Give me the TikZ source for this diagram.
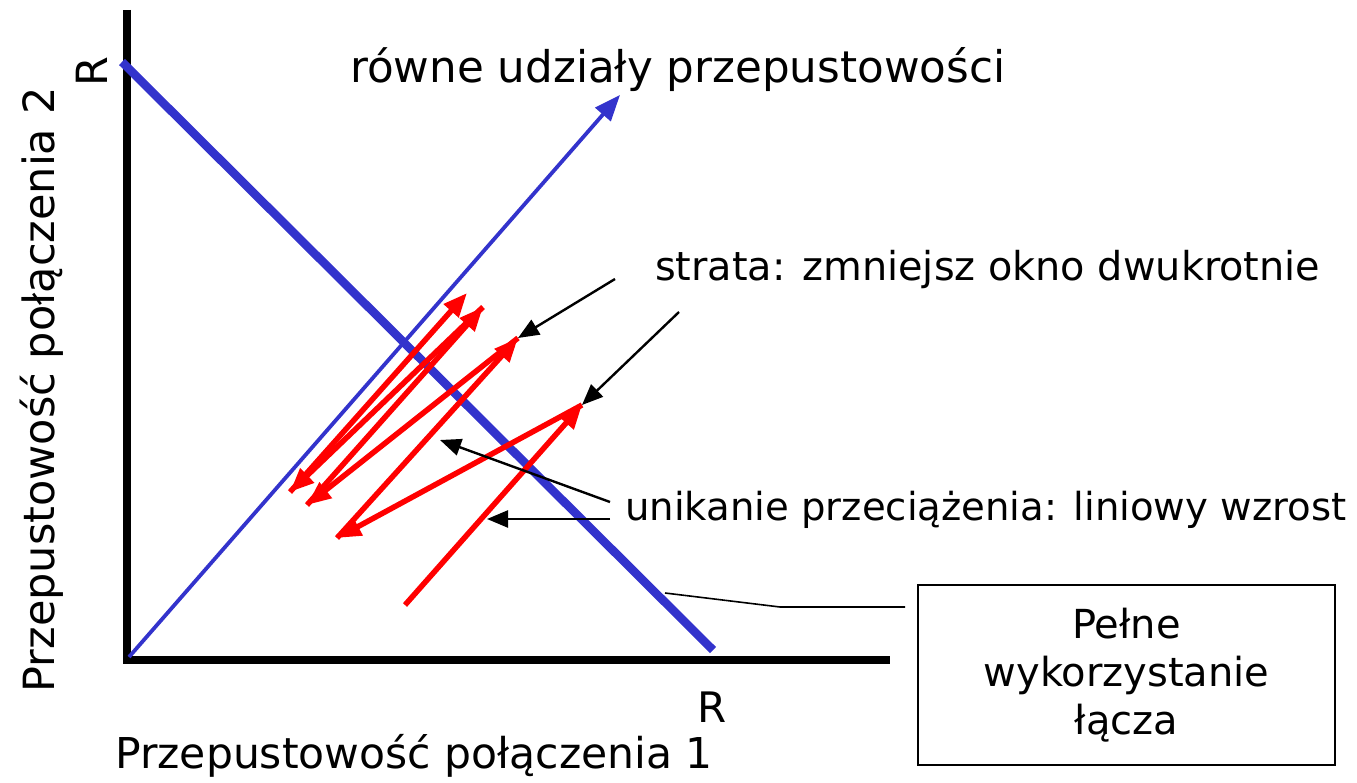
\documentclass[tikz,border=0pt]{standalone}
\usepackage{fontspec}
\setmainfont{DejaVu Sans}
\usetikzlibrary{arrows.meta}
\definecolor{axisblue}{RGB}{51,51,204}
\tikzset{
  lbl/.style={inner sep=0pt},
  redarr/.style={draw=red, line width=5.5pt, -{Triangle[length=24pt,width=19pt]}},
  blkarr/.style={draw=black, line width=2.4pt, -{Triangle[length=21pt,width=17pt]}},
  axis/.style={draw=black, line width=8.5pt},
}
\newcommand{\fs}[1]{\fontsize{#1}{#1}\selectfont}
\begin{document}
\begin{tikzpicture}[x=1pt,y=-1pt]
\useasboundingbox (0,0) rectangle (1357,783);
% axes
\coordinate (yTop) at (127,10);
\coordinate (origin) at (127,660);
\coordinate (xEnd) at (890,660);
\draw[axis] (yTop) -- (127,664);
\draw[axis] (123,660) -- (xEnd);
% full utilisation line
\coordinate (fuA) at (122,62);
\coordinate (fuB) at (713,650);
\draw[axisblue, line width=8.5pt] (fuA) -- (fuB);
% equal share line
\coordinate (esA) at (129,657);
\coordinate (esB) at (620,95);
\draw[axisblue, line width=3.8pt, -{Triangle[length=26pt,width=20pt]}] (esA) -- (esB);
% red trajectory
\coordinate (p0) at (405,605);
\coordinate (p1) at (582,405);
\coordinate (p2) at (337,538);
\coordinate (p3) at (518,338);
\coordinate (p4) at (307,505);
\coordinate (p5) at (483,307);
\coordinate (p6) at (290,492);
\coordinate (p7) at (467,293);
\draw[redarr] (p0) -- (p1);
\draw[redarr] (p1) -- (p2);
\draw[redarr] (p2) -- (p3);
\draw[redarr] (p3) -- (p4);
\draw[redarr] (p4) -- (p5);
\draw[redarr] (p5) -- (p6);
\draw[redarr] (p6) -- (p7);
% labels
\node[lbl, rotate=90, font=\fs{43}] (Ry) at (92,72) {R};
\node[lbl, font=\fs{42}] (Rx) at (712,707) {R};
\node[lbl, anchor=west, font=\fs{43.6}] (eq) at (350,70) {równe udziały przepustowości};
\node[lbl, anchor=west, font=\fs{39.8}] (loss) at (655,270) {strata: zmniejsz okno dwukrotnie};
\node[lbl, anchor=west, font=\fs{38.6}] (ca) at (625,510) {unikanie przeciążenia: liniowy wzrost};
\node[lbl, anchor=west, font=\fs{42.5}] (xl) at (115,756) {Przepustowość połączenia 1};
\node[lbl, rotate=90, font=\fs{43}] (yl) at (42,390) {Przepustowość połączenia 2};
\node[draw, line width=1.5pt, minimum width=417pt, minimum height=180pt, inner sep=0pt,
      align=center, font=\fontsize{40}{48}\selectfont] (box) at (1126.5,675)
      {Pełne\\wykorzystanie\\łącza};
% annotation arrows
\coordinate (l1s) at (615,279);
\coordinate (l2s) at (679,312);
\draw[blkarr] (l1s) -- (p3);
\draw[blkarr] (l2s) -- (p1);
\coordinate (c1s) at (610,502);
\coordinate (c1e) at (440,440);
\coordinate (c2s) at (610,519);
\coordinate (c2e) at (487,519);
\draw[blkarr] (c1s) -- (c1e);
\draw[blkarr] (c2s) -- (c2e);
\coordinate (f1) at (665,593);
\coordinate (f2) at (780,607);
\coordinate (f3) at (905,607);
\draw[line width=1.6pt] (f1) -- (f2) -- (f3);
\end{tikzpicture}
\end{document}
